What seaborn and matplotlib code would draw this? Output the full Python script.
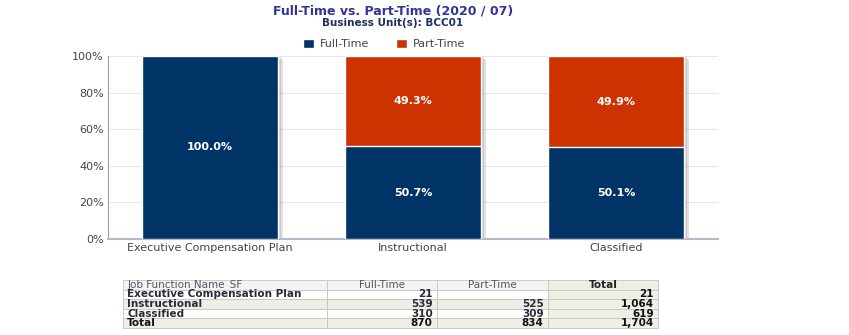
import matplotlib
matplotlib.use("Agg")
import matplotlib.pyplot as plt
import matplotlib.patheffects as pe
from matplotlib.patches import Patch
import seaborn as sns
import pandas as pd
import numpy as np

# ---- data ----
categories = ["Executive Compensation Plan", "Instructional", "Classified"]
full_time_counts = [21, 539, 310]
part_time_counts = [0, 525, 309]
full_time_pct = [100.0, 50.7, 50.1]
part_time_pct = [0.0, 49.3, 49.9]
y_ticks = [0, 20, 40, 60, 80, 100]
table_header = ["Job Function Name_SF", "Full-Time", "Part-Time", "Total"]

title = "Full-Time vs. Part-Time (2020 / 07)"
subtitle = "Business Unit(s): BCC01"

NAVY = "#003366"
ORANGE = "#CC3300"

sns.set_theme(style="white")
plt.rcParams["font.family"] = ["DejaVu Sans"]

df = pd.DataFrame({
    "cat": categories,
    "full": full_time_pct,
    "stack": [f + p for f, p in zip(full_time_pct, part_time_pct)],
})

fig = plt.figure(figsize=(8.49, 3.35), dpi=100)
ax = fig.add_axes([108 / 849, 1 - 239 / 335, 610 / 849, 183 / 335])

shadow = [pe.SimplePatchShadow(offset=(3.5, -2), shadow_rgbFace="#999999", alpha=0.3),
          pe.SimplePatchShadow(offset=(2, -1), shadow_rgbFace="#999999", alpha=0.3),
          pe.Normal()]

sns.barplot(data=df, x="cat", y="stack", color=ORANGE, saturation=1, width=0.67, ax=ax, zorder=2)
for p in ax.patches:
    p.set_path_effects(shadow)
sns.barplot(data=df, x="cat", y="full", color=NAVY, saturation=1, width=0.67, ax=ax, zorder=3)

for i, (f, pt) in enumerate(zip(full_time_pct, part_time_pct)):
    ax.text(i, f / 2, f"{f:.1f}%", ha="center", va="center", color="white", fontsize=8,
            fontweight="bold", zorder=5)
    if pt > 0:
        ax.text(i, f + pt / 2, f"{pt:.1f}%", ha="center", va="center", color="white", fontsize=8,
                fontweight="bold", zorder=5)

ax.set_xlim(-0.5, 2.5)
ax.set_ylim(0, 100)
ax.set_yticks(y_ticks)
ax.set_yticklabels([f"{t}%" for t in y_ticks])
ax.set_xlabel("")
ax.set_ylabel("")
ax.yaxis.grid(True, color="#E6E6EE", linewidth=0.8, zorder=0)
ax.set_axisbelow(True)
ax.tick_params(axis="both", labelsize=8, colors="#444444", length=0, pad=3)
for s in ["top", "right"]:
    ax.spines[s].set_visible(False)
ax.spines["left"].set_color("#9A9AB8")
ax.spines["left"].set_linewidth(0.8)
ax.spines["bottom"].set_color("#B8B8CC")
ax.spines["bottom"].set_linewidth(1.5)

# titles
fig.text(393 / 849, 1 - 11 / 335, title, ha="center", va="center", fontsize=9, fontweight="bold", color="#333399")
fig.text(393 / 849, 1 - 23.5 / 335, subtitle, ha="center", va="center", fontsize=7.5, fontweight="bold", color="#1F2F5F")

handles = [Patch(facecolor=NAVY, label="Full-Time"), Patch(facecolor=ORANGE, label="Part-Time")]
fig.legend(handles=handles, loc="center", bbox_to_anchor=(384 / 849, 1 - 44 / 335), ncol=2, frameon=False,
           fontsize=8, handlelength=1.0, handleheight=0.9, columnspacing=2.4, handletextpad=0.5,
           labelcolor="#444444")

# ---- table ----
tax = fig.add_axes([123 / 849, 1 - 328 / 335, 535 / 849, 48 / 335])
tax.set_axis_off()
totals = [f + p for f, p in zip(full_time_counts, part_time_counts)]
rows = []
for c, f, p, t in zip(categories, full_time_counts, part_time_counts, totals):
    rows.append([c, f"{f:,}", f"{p:,}" if p else "", f"{t:,}"])
rows.append(["Total", f"{sum(full_time_counts):,}", f"{sum(part_time_counts):,}", f"{sum(totals):,}"])
cell_text = [table_header] + rows
col_w = np.array([204, 110, 111, 110]) / 535
tbl = tax.table(cellText=cell_text, colWidths=list(col_w), loc="upper left", bbox=[0, 0, 1, 1])
tbl.auto_set_font_size(False)
tbl.set_fontsize(7.5)
nrows = len(cell_text)
for (r, c), cell in tbl.get_celld().items():
    cell.set_edgecolor("#C4C4C4")
    cell.set_linewidth(0.6)
    txt = cell.get_text()
    txt.set_color("#2A2A3A")
    if r == 0:
        cell.set_facecolor("#F3F3F3" if c < 3 else "#EFEEE4")
        txt.set_ha("left" if c == 0 else "center")
        txt.set_color("#555566" if c < 3 else "#222222")
        if c == 3:
            txt.set_fontweight("bold")
    else:
        bg = "#FFFFFF"
        if r == 2:
            bg = "#EAF1E4"
        if c == 3 or r == nrows - 1:
            bg = "#F0EFE6"
        cell.set_facecolor(bg)
        txt.set_ha("left" if c == 0 else "right")
        txt.set_fontweight("bold")
        if c == 3 or r == nrows - 1:
            txt.set_color("#111111")
    cell.PAD = 0.02 if c == 0 else 0.04

fig.savefig("out.png", dpi=100)
